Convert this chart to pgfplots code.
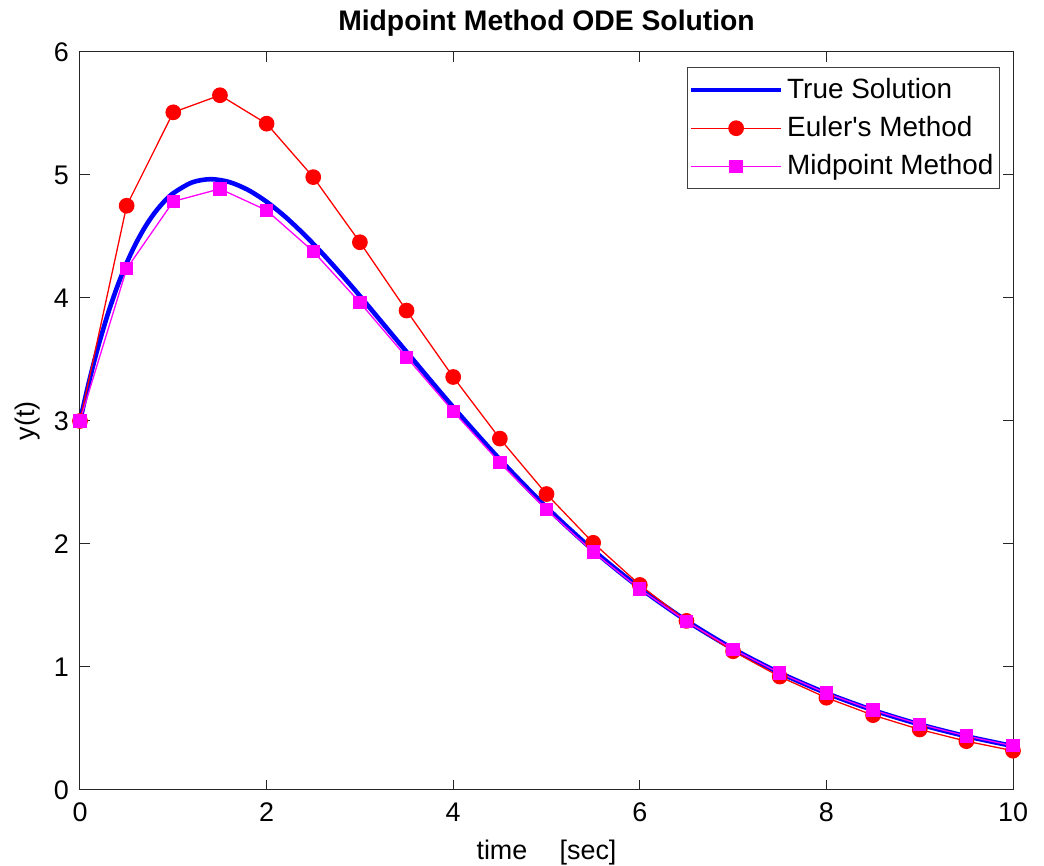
\documentclass[border=0pt]{standalone}
\usepackage{pgfplots}
\pgfplotsset{compat=1.18}
\usepackage{fontspec}
\setmainfont{Liberation Sans}
\newfontfamily\plainfont{Liberation Sans}
\definecolor{mag}{RGB}{255,0,255}
\definecolor{mblue}{RGB}{0,0,255}
\definecolor{mred}{RGB}{255,0,0}
\begin{document}
\fontsize{13.3pt}{15pt}\selectfont
\begin{tikzpicture}
\begin{axis}[
  scale only axis,
  width=466.5bp, height=369bp,
  xmin=0, xmax=10, ymin=0, ymax=6,
  xtick={0,2,...,10}, ytick={0,1,...,6},
  tick align=inside,
  major tick length=5bp,
  axis line style={black!85, line width=0.5bp},
  every tick/.style={black!85, line width=0.5bp},
  tick label style={font=\fontsize{13.5pt}{15pt}\selectfont},
  /pgf/number format/assume math mode=true,
  xticklabel style={yshift=-2bp},
  yticklabel style={xshift=-1bp},
  title={Midpoint Method ODE Solution},
  title style={font=\fontsize{14.2pt}{16pt}\selectfont\bfseries, yshift=-3bp},
  xlabel={time\hspace{1.2em}[sec]},
  ylabel={y(t)},
  label style={font=\fontsize{13.5pt}{15pt}\selectfont},
  xlabel style={yshift=0bp},
  ylabel style={yshift=-2bp},
  legend style={at={(0.986,0.979)}, anchor=north east, draw=black!75, line width=0.5bp,
    font=\fontsize{14pt}{16pt}\selectfont, inner xsep=1bp, inner ysep=3bp, row sep=3bp,
    cells={anchor=west}},
  legend image code/.code={
    \draw[#1] (-0.1cm,0cm) -- (1.48cm,0cm);
    \path[#1, mark repeat=1] plot coordinates {(0.69cm,0cm)};
  },
]
\addplot[mblue, line width=2.3bp, smooth] coordinates {
(0,3) (0.1,3.3293) (0.2,3.6193) (0.3,3.8732) (0.4,4.0937) (0.5,4.2834)
(0.6,4.4449) (0.7,4.5805) (0.8,4.6922) (0.9,4.7822) (1.0,4.8522)
(1.2,4.9393) (1.4,4.9659) (1.6,4.9426) (1.8,4.8788) (2.0,4.7824)
(2.2,4.6602) (2.4,4.5179) (2.6,4.3605) (2.8,4.1921) (3.0,4.0163)
(3.5,3.5624) (4.0,3.1127) (4.5,2.6877) (5.0,2.2984) (5.5,1.9498)
(6.0,1.6430) (6.5,1.3765) (7.0,1.1475) (7.5,0.9525) (8.0,0.7876)
(8.5,0.6490) (9.0,0.5332) (9.5,0.4369) (10,0.3571)
};
\addlegendentry{True Solution}
\addplot[mred, line width=0.65bp, mark=*, mark size=3.6bp, mark options={fill=mred, draw=mred}] coordinates {
(0,3) (0.5,4.75) (1.0,5.5095) (1.5,5.6484) (2.0,5.4172) (2.5,4.9826)
(3.0,4.4532) (3.5,3.8977) (4.0,3.3577) (4.5,2.8566) (5.0,2.4060)
(5.5,2.0097) (6.0,1.6671) (6.5,1.3748) (7.0,1.1280) (7.5,0.9215)
(8.0,0.7499) (8.5,0.6082) (9.0,0.4919) (9.5,0.3967) (10,0.3191)
};
\addlegendentry{Euler{\plainfont '}s Method}
\addplot[mag, line width=0.65bp, mark=square*, mark size=3bp, mark options={fill=mag, draw=mag}] coordinates {
(0,3) (0.5,4.2375) (1.0,4.7853) (1.5,4.8871) (2.0,4.7126) (2.5,4.3784)
(3.0,3.9632) (3.5,3.5189) (4.0,3.0782) (4.5,2.6611) (5.0,2.2786)
(5.5,1.9356) (6.0,1.6333) (6.5,1.3703) (7.0,1.1439) (7.5,0.9509)
(8.0,0.7874) (8.5,0.6499) (9.0,0.5347) (9.5,0.4387) (10,0.3591)
};
\addlegendentry{Midpoint Method}
\end{axis}
\pgfresetboundingbox
\useasboundingbox ([shift={(-40bp,-38bp)}]current axis.south west) rectangle ([shift={(15.5bp,26bp)}]current axis.north east);
\end{tikzpicture}
\end{document}
